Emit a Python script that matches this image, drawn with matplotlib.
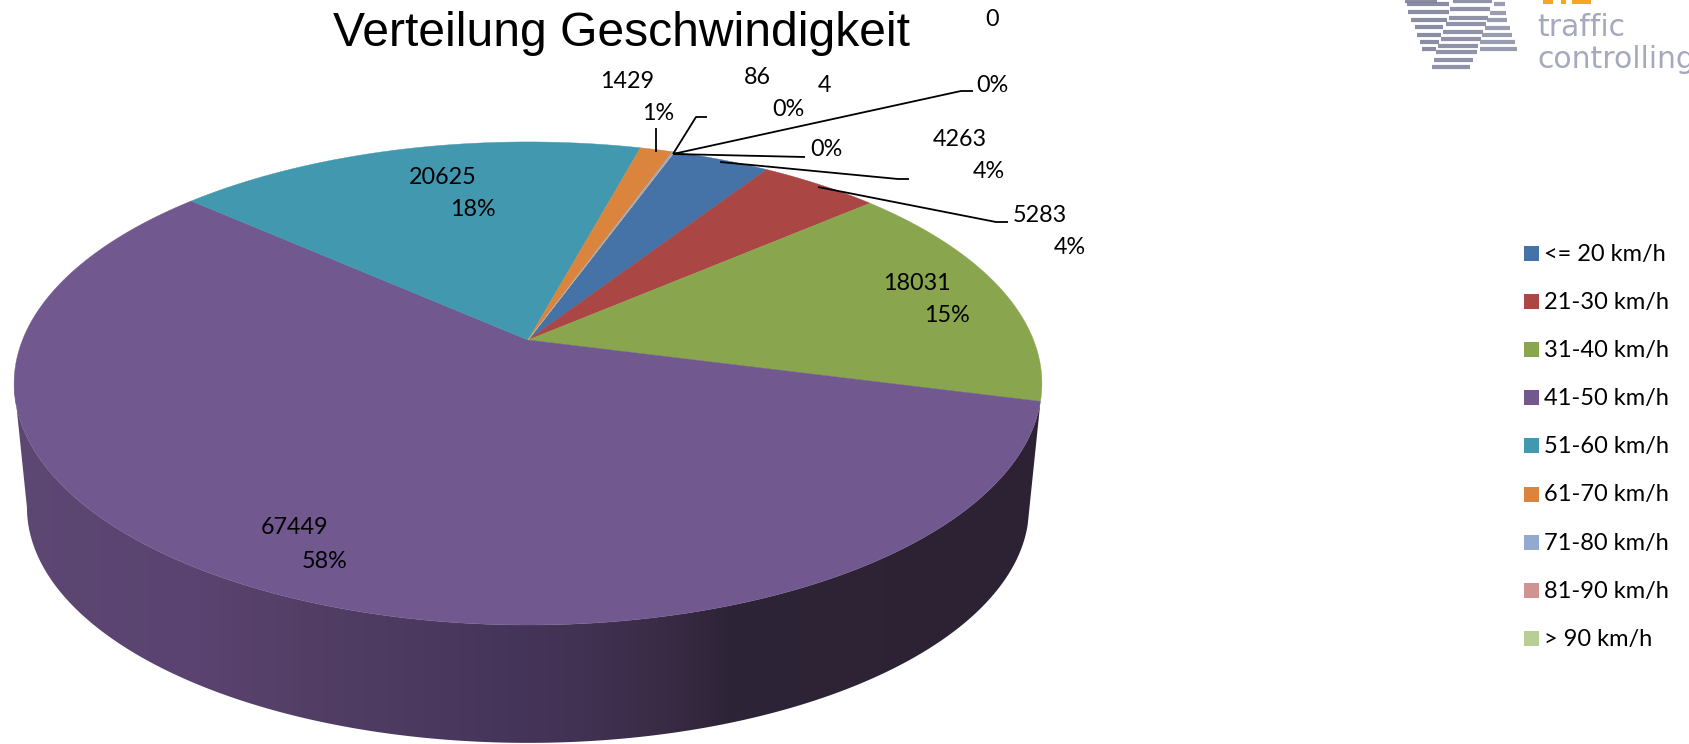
import numpy as np
import matplotlib
matplotlib.use("Agg")
import matplotlib.pyplot as plt
from matplotlib.colors import LinearSegmentedColormap
from matplotlib.patches import Polygon, Rectangle

# Werte
labels = ["<= 20 km/h", "21-30 km/h", "31-40 km/h", "41-50 km/h", "51-60 km/h",
          "61-70 km/h", "71-80 km/h", "81-90 km/h", "> 90 km/h"]
values = [4263, 5283, 18031, 67449, 20625, 1429, 86, 4, 0]
percents = ["4%", "4%", "15%", "58%", "18%", "1%", "0%", "0%", "0%"]
colors = ["#4572a7", "#aa4643", "#89a54e", "#71588f", "#4198af",
          "#db843d", "#93a9cf", "#d19392", "#b9cd96"]

W, H = 1689, 744
plt.rcParams["font.family"] = ["Lato", "DejaVu Sans"]

fig = plt.figure(figsize=(W / 100, H / 100), dpi=100)
ax = fig.add_axes([0, 0, 1, 1])
ax.axis("off")

# Perspektive der Kreisflaeche
cx, cy = 528, 340
a, b, k = 505.5, 233.7, 0.18
start = 19.8


def project(t, shift=0.0, scale=1.0):
    X = np.sin(np.radians(t))
    Y = np.cos(np.radians(t))
    w = 1 + k * Y
    return cx + scale * a * X / w, cy + shift - b * scale * Y / w


# Seitenwand (nur der violette Teil ist sichtbar), Verlauf von links nach rechts
depth, wall_scale = 125, 0.975
ts = np.linspace(104.5, 259.6, 200)
top_x, top_y = project(ts)
bot_x, bot_y = project(ts[::-1], shift=depth, scale=wall_scale)
wall = Polygon(list(zip(top_x, top_y)) + list(zip(bot_x, bot_y)), fc="none", ec="none")
ax.add_patch(wall)
wall_cmap = LinearSegmentedColormap.from_list("wall", [
    (0.0, "#5d4773"), (0.19, "#5a4370"), (0.29, "#533f66"), (0.39, "#4c3a60"),
    (0.49, "#46355a"), (0.58, "#403050"), (0.64, "#392b45"), (0.70, "#2e2437"),
    (1.0, "#2c2233")])
grad = ax.imshow(np.linspace(0, 1, 512).reshape(1, -1), cmap=wall_cmap, aspect="auto",
                 extent=(0, 1040, H, 0), interpolation="bilinear")
grad.set_clip_path(wall)

ax.set_xlim(0, W)
ax.set_ylim(H, 0)

# Kreisflaeche
angle = start
for val, col in zip(values, colors):
    span = val / sum(values) * 360
    t = np.linspace(angle, angle + span, max(2, int(span * 2)))
    x, y = project(t)
    ax.add_patch(Polygon(list(zip(x, y)) + [(cx, cy)], fc=col, ec=col, lw=0.3))
    angle += span

# Titel
ax.text(622, 34, "Verteilung Geschwindigkeit", fontsize=34.6, family="Liberation Sans",
        ha="center", va="center", color="black")

# Beschriftungen: Wert und Prozent
fs = 16.8
value_pos = [(960, 140), (1040, 216), (917, 284), (295, 528), (443, 178),
             (627, 82), (757, 78), (825, 86), (992, 20)]
pct_pos = [(989, 172), (1070, 248), (947, 316), (325, 562), (473, 210),
           (658, 114), (788, 110), (826, 150), (992, 85)]
for val, pct, vp, pp in zip(values, percents, value_pos, pct_pos):
    ax.text(vp[0], vp[1], str(val), fontsize=fs, ha="center", va="center", color="black")
    ax.text(pp[0], pp[1], pct, fontsize=fs, ha="center", va="center", color="black")

# Fuehrungslinien
leaders = [
    ([720, 898, 909], [162, 179, 179]),
    ([818, 996, 1008], [187, 222, 222]),
    ([656, 656], [128, 152]),
    ([673, 696, 707], [154, 117, 117]),
    ([673, 961, 973], [154, 91, 91]),
    ([673, 805], [154, 157]),
]
for xs, ys in leaders:
    ax.plot(xs, ys, color="black", lw=1.3, solid_capstyle="butt")

# Legende
for i, (lab, col) in enumerate(zip(labels, colors)):
    y = 253.5 + i * 48.1
    ax.add_patch(Rectangle((1524, y - 7.5), 15, 15, fc=col, ec="none"))
    ax.text(1544, y + 1, lab, fontsize=17, ha="left", va="center", color="black")

# Logo
left_arm = [(165, 262, 2), (172, 298, 12), (175, 298, 35), (183, 292, 60),
            (195, 280, 82), (200, 272, 105), (210, 268, 126), (215, 258, 148)]
mid_arm = [(310, 425, 3), (300, 420, 28), (297, 413, 53), (288, 408, 73), (280, 398, 95),
           (272, 392, 118), (265, 385, 138), (258, 380, 157), (252, 370, 180), (245, 360, 200)]
right_arm = [(432, 465, 12), (420, 468, 40), (412, 472, 60), (405, 480, 83),
             (397, 485, 105), (390, 495, 125), (390, 500, 148)]
for arm, col in [(left_arm, "#7f8299"), (mid_arm, "#83869f"), (right_arm, "#8f92a8")]:
    for x1, x2, y in arm:
        ax.plot([1350 + x1 / 3, 1350 + x2 / 3], [y / 3, y / 3], color=col, lw=3,
                solid_capstyle="butt", alpha=0.9)
for x1, x2 in [(1543, 1553), (1561, 1566), (1572, 1591)]:
    ax.add_patch(Rectangle((x1, 0), x2 - x1, 4, fc="#f5a623", ec="none"))
ax.text(1537, 27, "traffic", fontsize=21.5, color="#a6a9bd", ha="left", va="center", family="DejaVu Sans")
ax.text(1537, 60, "controlling", fontsize=21.5, color="#a6a9bd", ha="left", va="center", family="DejaVu Sans")

fig.savefig("out.png", dpi=100)
